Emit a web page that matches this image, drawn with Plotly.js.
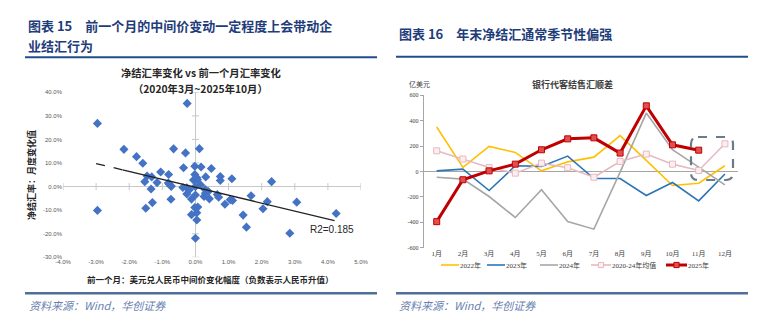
<!DOCTYPE html>
<html><head><meta charset="utf-8">
<script src="https://cdn.plot.ly/plotly-3.0.1.min.js"></script>
<style>html,body{margin:0;padding:0;background:#fff;} #chart{width:765px;height:321px;}</style>
</head><body><div id="chart"></div>
<script>
// ---------- Left chart data (percent) ----------
const scatterX = [-2.96,-2.96,-0.25,-2.16,-1.78,-1.59,-0.66,-0.30,0.12,-0.36,-0.02,0.17,0.48,-1.46,-1.32,-1.05,-0.81,-1.53,-1.16,-0.82,-0.74,-0.79,-0.73,-1.34,-0.38,-0.26,-0.18,-0.02,0.04,-0.06,0.06,0.31,0.75,0.75,1.10,2.30,0.00,0.16,0.30,0.30,0.39,0.26,0.42,0.66,0.70,0.89,1.05,1.12,1.68,2.17,2.04,3.06,1.44,1.54,2.85,4.25,-1.50,-1.30,-0.74,-0.12,0.00,-0.26,-0.02,0.07,-0.12,0.04,0.04,0.00];
const scatterY = [26.8,-10.1,35.3,15.8,12.7,9.9,16.0,14.3,16.1,8.0,8.6,8.3,7.7,4.5,4.1,6.2,5.1,2.1,1.7,1.5,0.3,1.0,0.1,-1.0,-0.4,-0.5,-1.3,5.1,3.7,2.8,2.9,4.1,4.3,2.6,3.3,2.1,0.0,0.7,-1.3,-2.8,-2.1,-4.2,-5.2,-3.4,-4.5,-7.5,-5.6,-5.9,-3.9,-6.4,-9.4,-6.6,-12.1,-17.2,-19.8,-11.4,-9.2,-6.8,-5.4,-5.3,-3.6,-3.1,-8.9,-8.7,-11.9,-11.1,-14.2,-21.9];
const trendSlope = -3.36;
const trendIntercept = -0.3;
const trendDashX = [-3.0, -2.2];
const trendSolidX = [-2.2, 4.2];
const r2Label = 'R2=0.185';
const xTickVals = [-4,-3,-2,-1,0,1,2,3,4,5];
const xTickText = ['-4.0%','-3.0%','-2.0%','-1.0%','0.0%','1.0%','2.0%','3.0%','4.0%','5.0%'];
const yTickVals = [-30,-20,-10,0,10,20,30,40];
const yTickText = ['-30.0%','-20.0%','-10.0%','0.0%','10.0%','20.0%','30.0%','40.0%'];

// ---------- Right chart data (亿美元) ----------
const months = ['1月','2月','3月','4月','5月','6月','7月','8月','9月','10月','11月','12月'];
const y2022 = [350,32,197,150,5,76,113,283,87,-110,-92,45];
const y2023 = [5,19,-150,45,40,121,-55,-55,-189,-87,-231,-20];
const y2024 = [-45,-60,-197,-362,-144,-394,-454,-5,460,171,35,-105];
const yMean = [163,98,32,-13,66,30,-45,79,137,58,8,218];
const y2025 = [-395,-65,5,58,171,257,265,145,517,210,168,null];
const seriesNames = ['2022年','2023年','2024年','2020-24年均值','2025年'];
const y2TickVals = [-600,-400,-200,0,200,400,600];
const y2TickText = ['-600','-400','-200','0','200','400','600'];

// ---------- helpers / styles ----------
const W = 765, H = 321;
const px = x => x / W;
const py = y => 1 - y / H;
const CJK = '"Noto Sans CJK SC", "Noto Sans", sans-serif';
const SERIF = '"Liberation Serif", "Noto Sans CJK SC", serif';
const headerColor = '#1f3d7a';

const seriesData = [y2022, y2023, y2024, yMean, y2025];
const seriesStyle = [
  {line: {color: '#ffc000', width: 1.6}},
  {line: {color: '#2e75b6', width: 1.6}},
  {line: {color: '#a6a6a6', width: 1.6}},
  {line: {color: '#e6b9c1', width: 1.6}, marker: {symbol: 'square', size: 6, color: '#fbeef0', line: {color: '#e6b9c1', width: 1}}},
  {line: {color: '#c00000', width: 3}, marker: {symbol: 'square', size: 6, color: '#e05050', line: {color: '#c00000', width: 1}}}
];
// manual legend layout (pixel positions of line start / end)
const legendLayout = [
  {x0: 441, x1: 459}, {x0: 487, x1: 505}, {x0: 540, x1: 558}, {x0: 591, x1: 611}, {x0: 666, x1: 687}
];
const legendY = 265;

const traces = [
  // small tick marks on the zero axes of the scatter chart
  {x: xTickVals, y: xTickVals.map(() => 0), type: 'scatter', mode: 'markers', xaxis: 'x', yaxis: 'y', showlegend: false,
   marker: {symbol: 'line-ns', size: 5, line: {color: '#c8c8c8', width: 1}}},
  {x: yTickVals.map(() => 0), y: yTickVals, type: 'scatter', mode: 'markers', xaxis: 'x', yaxis: 'y', showlegend: false,
   marker: {symbol: 'line-ew', size: 5, line: {color: '#c8c8c8', width: 1}}},
  {x: scatterX, y: scatterY, type: 'scatter', mode: 'markers', xaxis: 'x', yaxis: 'y', showlegend: false,
   marker: {symbol: 'diamond', size: 7, color: '#4472c4'}},
  {x: trendDashX, y: trendDashX.map(v => trendSlope * v + trendIntercept), type: 'scatter', mode: 'lines',
   xaxis: 'x', yaxis: 'y', showlegend: false, line: {color: '#222', width: 1.3, dash: 'dash'}},
  {x: trendSolidX, y: trendSolidX.map(v => trendSlope * v + trendIntercept), type: 'scatter', mode: 'lines',
   xaxis: 'x', yaxis: 'y', showlegend: false, line: {color: '#222', width: 1.3}}
];
seriesData.forEach((d, i) => {
  const st = seriesStyle[i];
  const t = {x: months, y: d, name: seriesNames[i], type: 'scatter', mode: st.marker ? 'lines+markers' : 'lines',
    xaxis: 'x2', yaxis: 'y2', showlegend: false, line: st.line};
  if (st.marker) t.marker = st.marker;
  traces.push(t);
});

const shapes = [
  {type: 'line', xref: 'paper', yref: 'paper', x0: px(25), x1: px(377), y0: py(57.3), y1: py(57.3), line: {color: '#1f4e8c', width: 2}},
  {type: 'line', xref: 'paper', yref: 'paper', x0: px(396), x1: px(748), y0: py(56.7), y1: py(56.7), line: {color: '#1f4e8c', width: 2}},
  {type: 'line', xref: 'paper', yref: 'paper', x0: px(25), x1: px(377), y0: py(293.3), y1: py(293.3), line: {color: '#4f6e9a', width: 2.5}},
  {type: 'line', xref: 'paper', yref: 'paper', x0: px(396), x1: px(748), y0: py(293.3), y1: py(293.3), line: {color: '#4f6e9a', width: 2.5}},
  (function () {
    const x0 = px(691), x1 = px(733), y0 = py(180), y1 = py(137), rx = px(7), ry = 7 / H;
    return {type: 'path', xref: 'paper', yref: 'paper', line: {color: '#6b7b8c', width: 2.2, dash: 'dash'},
      path: `M ${x0 + rx},${y1} L ${x1 - rx},${y1} Q ${x1},${y1} ${x1},${y1 - ry} L ${x1},${y0 + ry} Q ${x1},${y0} ${x1 - rx},${y0} L ${x0 + rx},${y0} Q ${x0},${y0} ${x0},${y0 + ry} L ${x0},${y1 - ry} Q ${x0},${y1} ${x0 + rx},${y1} Z`};
  })()
];

const annotations = [
  {xref: 'paper', yref: 'paper', x: px(26), y: py(25.5), xanchor: 'left', yanchor: 'middle', showarrow: false,
   text: '<b>图表 15　前一个月的中间价变动一定程度上会带动企</b>', font: {family: CJK, size: 13, color: headerColor}},
  {xref: 'paper', yref: 'paper', x: px(26), y: py(45), xanchor: 'left', yanchor: 'middle', showarrow: false,
   text: '<b>业结汇行为</b>', font: {family: CJK, size: 13, color: headerColor}},
  {xref: 'paper', yref: 'paper', x: px(397), y: py(33), xanchor: 'left', yanchor: 'middle', showarrow: false,
   text: '<b>图表 16　年末净结汇通常季节性偏强</b>', font: {family: CJK, size: 13, color: headerColor}},
  {xref: 'paper', yref: 'paper', x: px(27), y: py(305), xanchor: 'left', yanchor: 'middle', showarrow: false,
   text: '<i>资料来源：Wind，华创证券</i>', font: {family: CJK, size: 11, color: '#6a7fb0'}},
  {xref: 'paper', yref: 'paper', x: px(397), y: py(305), xanchor: 'left', yanchor: 'middle', showarrow: false,
   text: '<i>资料来源：Wind，华创证券</i>', font: {family: CJK, size: 11, color: '#6a7fb0'}},
  {xref: 'paper', yref: 'paper', x: px(201), y: py(72.8), xanchor: 'center', yanchor: 'middle', showarrow: false,
   text: '<b>净结汇率变化 vs 前一个月汇率变化</b>', font: {family: CJK, size: 10.3, color: '#262626'}},
  {xref: 'paper', yref: 'paper', x: px(200), y: py(88), xanchor: 'center', yanchor: 'middle', showarrow: false,
   text: '<b>（2020年3月~2025年10月）</b>', font: {family: CJK, size: 10.3, color: '#262626'}},
  {xref: 'paper', yref: 'paper', x: px(32), y: py(175), xanchor: 'center', yanchor: 'middle', showarrow: false, textangle: -90,
   text: '<b>净结汇率：月度变化值</b>', font: {family: CJK, size: 9, color: '#262626'}},
  {xref: 'paper', yref: 'paper', x: px(210), y: py(279), xanchor: 'center', yanchor: 'middle', showarrow: false,
   text: '<b>前一个月：美元兑人民币中间价变化幅度（负数表示人民币升值）</b>', font: {family: CJK, size: 8.5, color: '#262626'}},
  {xref: 'paper', yref: 'paper', x: px(332), y: py(229.7), xanchor: 'center', yanchor: 'middle', showarrow: false,
   text: r2Label, font: {family: '"Liberation Sans", sans-serif', size: 10, color: '#262626'}},
  {xref: 'paper', yref: 'paper', x: px(419), y: py(84), xanchor: 'center', yanchor: 'middle', showarrow: false,
   text: '亿美元', font: {family: CJK, size: 7, color: '#404040'}},
  {xref: 'paper', yref: 'paper', x: px(572), y: py(85), xanchor: 'center', yanchor: 'middle', showarrow: false,
   text: '<b>银行代客结售汇顺差</b>', font: {family: CJK, size: 9, color: '#404040'}}
];

// manual legend
seriesNames.forEach((name, i) => {
  const L = legendLayout[i], st = seriesStyle[i];
  shapes.push({type: 'line', xref: 'paper', yref: 'paper', x0: px(L.x0), x1: px(L.x1), y0: py(legendY), y1: py(legendY),
    line: {color: st.line.color, width: st.line.width}});
  if (st.marker) {
    const cx = (L.x0 + L.x1) / 2, h = 2.6;
    shapes.push({type: 'rect', xref: 'paper', yref: 'paper', x0: px(cx - h), x1: px(cx + h), y0: py(legendY + h), y1: py(legendY - h),
      fillcolor: st.marker.color, line: {color: st.marker.line.color, width: 1}});
  }
  annotations.push({xref: 'paper', yref: 'paper', x: px(L.x1), y: py(legendY), xanchor: 'left', yanchor: 'middle', showarrow: false,
    text: name, font: {family: SERIF, size: 7, color: '#404040'}, borderpad: 0});
});

const tickFontSmall = {family: '"Liberation Sans", sans-serif', size: 6, color: '#595959'};

const layout = {
  width: W, height: H, margin: {l: 0, r: 0, t: 0, b: 0},
  paper_bgcolor: '#fff', plot_bgcolor: 'rgba(0,0,0,0)',
  showlegend: false,
  xaxis: {domain: [px(63), px(361)], range: [-4, 5], anchor: 'y', tickvals: xTickVals, ticktext: xTickText,
    showgrid: false, zeroline: true, zerolinecolor: '#c8c8c8', zerolinewidth: 1, showline: false, ticks: '',
    tickfont: tickFontSmall, fixedrange: true},
  yaxis: {domain: [py(257.3), py(92.3)], range: [-30, 40], anchor: 'x', tickvals: yTickVals, ticktext: yTickText,
    showgrid: false, zeroline: true, zerolinecolor: '#c8c8c8', zerolinewidth: 1, showline: false, ticks: '',
    tickfont: tickFontSmall, fixedrange: true},
  xaxis2: {domain: [px(423.6), px(738)], anchor: 'y2', type: 'category', range: [-0.5, 11.5],
    showgrid: false, zeroline: false, showline: false, ticks: '',
    tickfont: {family: SERIF, size: 7, color: '#404040'}, fixedrange: true},
  yaxis2: {domain: [py(247.7), py(95.3)], anchor: 'x2', range: [-600, 600], tickvals: y2TickVals, ticktext: y2TickText,
    showgrid: false, zeroline: true, zerolinecolor: '#a6a6a6', zerolinewidth: 1, showline: true, linecolor: '#a6a6a6',
    ticks: 'outside', ticklen: 3, tickcolor: '#a6a6a6', tickfont: {family: SERIF, size: 6, color: '#404040'}, fixedrange: true},
  shapes: shapes,
  annotations: annotations
};

Plotly.newPlot('chart', traces, layout, {displayModeBar: false, staticPlot: true});
</script>
</body></html>
